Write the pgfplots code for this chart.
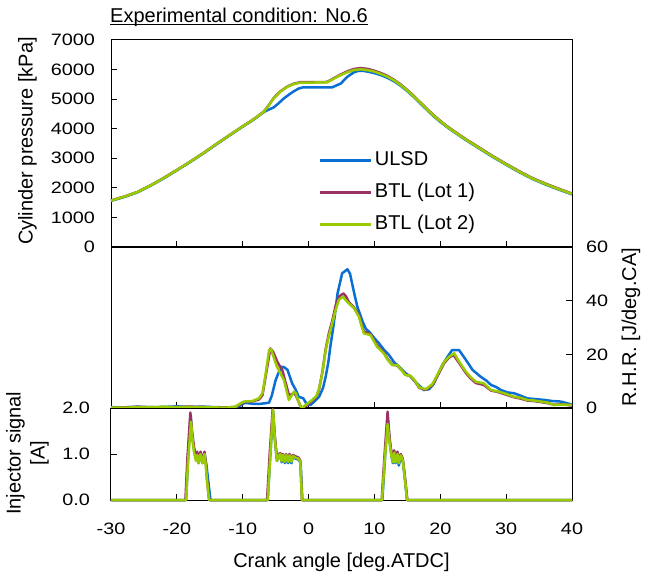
\documentclass[border=0pt]{standalone}
\usepackage{fontspec}
\setmainfont{Liberation Sans}
\newfontfamily\tickfont{Liberation Sans}[FakeStretch=1.2]
\usepackage{pgfplots}
\pgfplotsset{compat=1.18}
\definecolor{ulsd}{RGB}{10,110,210}
\definecolor{lotone}{RGB}{153,51,102}
\definecolor{lottwo}{RGB}{153,204,0}
\newcommand\ulx[1]{\setbox0\hbox{#1}\rlap{\rule[-2.6pt]{\wd0}{1.2pt}}\box0}
\newcommand\labfont{\fontsize{20}{24}\selectfont}
\pgfplotsset{
 panel/.style={
  scale only axis, width=461pt, xmin=-30, xmax=40,
  xtick={-30,-20,...,40}, tick align=inside,
  axis line style={line width=1pt},
  major tick length=6pt, every tick/.style={line width=1pt, black},
  every axis plot/.append style={line width=2.5pt, line join=round},
  tick label style={font=\tickfont\fontsize{16.5}{20}\selectfont},
  /pgf/number format/assume math mode=true,
  clip=false,
 }
}
\begin{document}
\begin{tikzpicture}
\useasboundingbox (0pt,0pt) rectangle (645pt,-575pt);
% ---------------- top: cylinder pressure
\begin{axis}[panel, at={(111pt,-40pt)}, anchor=north west, height=207pt,
  ymin=0, ymax=7000, ytick={0,1000,...,7000},
  yticklabels={0,1000,2000,3000,4000,5000,6000,7000},
  xticklabels={}, xtick pos=bottom, ytick pos=left,
  yticklabel shift=12.5pt,
  ylabel={Cylinder pressure [kPa]},
  every axis y label/.style={at={(axis description cs:-0.181,0.512)}, rotate=90, anchor=center, font=\labfont},
  title={\ulx{Experimental condition: No.6}},
  title style={at={(axis description cs:0,1.0565)}, anchor=base west, xshift=-1pt, inner sep=0pt, font=\labfont},
  legend style={at={(axis description cs:0.451,0.473)}, anchor=north west, draw=none, fill=none,
    inner sep=0pt, outer sep=0pt, row sep=10pt, font=\labfont,
    nodes={inner sep=2pt, text height=14pt, text depth=4pt},
    /tikz/every even column/.append style={column sep=8pt}},
  legend cell align=left,
  legend image code/.code={\draw[#1, line width=3pt] (0pt,0pt) -- (51pt,0pt);},
]
\addplot[ulsd] coordinates {
(-30,1560) (-28,1690) (-26,1845) (-24,2070) (-22,2320) (-20,2590) (-18,2870) (-16,3160)
(-14,3470) (-12,3770) (-10,4070) (-9,4210) (-8,4360) (-7,4530) (-6.5,4600) (-6,4650)
(-5.3,4720) (-4.5,4870) (-3.75,5025) (-3,5150) (-2.2,5270) (-1.5,5360) (-0.8,5400)
(3.6,5400) (4.3,5470) (4.9,5530) (5.9,5760) (6.9,5910) (7.5,5950) (8.2,5960) (9,5930)
(10,5880) (11,5810) (12,5720) (13,5600) (14,5450) (15,5270) (16,5070) (17,4850) (18,4630)
(19,4420) (20,4230) (21,4060) (22,3900) (24,3600) (26,3320) (28,3040) (30,2780) (32,2530)
(34,2300) (36,2110) (38,1940) (40,1780)};
\addlegendentry{ULSD}
\addplot[lotone] coordinates {
(-30,1575) (-28,1705) (-26,1860) (-24,2085) (-22,2335) (-20,2605) (-18,2885) (-16,3175)
(-14,3485) (-12,3785) (-10,4085) (-9,4225) (-8,4375) (-7,4545) (-6.8,4580) (-6,4810)
(-5.3,5035) (-4.3,5260) (-3.2,5430) (-2.2,5525) (-1.2,5575) (2.8,5580) (3.9,5715)
(4.9,5835) (5.9,5940) (6.9,6020) (7.9,6050) (9,6020) (10,5960) (11,5880) (12,5785)
(13,5650) (14,5495) (15,5305) (16,5105) (17,4885) (18,4665) (19,4455) (20,4265)
(21,4090) (22,3930) (24,3630) (26,3350) (28,3070) (30,2810) (32,2560) (34,2330)
(36,2140) (38,1970) (40,1805)};
\addlegendentry{BTL (Lot 1)}
\addplot[lottwo] coordinates {
(-30,1570) (-28,1700) (-26,1855) (-24,2080) (-22,2330) (-20,2600) (-18,2880) (-16,3170)
(-14,3480) (-12,3780) (-10,4080) (-9,4220) (-8,4370) (-7,4540) (-6.8,4575) (-6,4800)
(-5.3,5025) (-4.3,5250) (-3.2,5420) (-2.2,5510) (-1.2,5560) (2.8,5565) (3.9,5700)
(4.9,5815) (5.9,5910) (6.9,5985) (7.9,6010) (9,5980) (10,5930) (11,5850) (12,5760)
(13,5630) (14,5475) (15,5290) (16,5090) (17,4870) (18,4650) (19,4440) (20,4250)
(21,4075) (22,3915) (24,3615) (26,3335) (28,3055) (30,2795) (32,2545) (34,2315)
(36,2125) (38,1955) (40,1795)};
\addlegendentry{BTL (Lot 2)}
\end{axis}
% ---------------- middle: rate of heat release
\begin{axis}[panel, at={(111pt,-247pt)}, anchor=north west, height=161pt,
  ymin=0, ymax=60, ytick={0,20,40,60}, yticklabels={0,20,40,60},
  xticklabels={}, xtick pos=bottom, ytick pos=right, yticklabel pos=right,
  yticklabel shift=10.5pt,
  ylabel={R.H.R. [J/deg.CA]},
  every axis y label/.style={at={(axis description cs:1.128,0.5)}, rotate=90, anchor=center, font=\labfont},
]
\addplot[ulsd] coordinates {
(-30,0.3) (-28,0.2) (-26,0.5) (-24,0.3) (-22,0.4) (-20,0.6) (-18,0.4) (-16,0.5) (-14,0.3)
(-12,0.2) (-11,0.3) (-10.3,1.0) (-9.7,1.9) (-8.5,1.6) (-7.5,1.5) (-6.5,1.8) (-6,2.0)
(-5.6,4.5) (-5,10.4) (-4.5,13.5) (-4,15.4) (-3.6,15.0) (-3.2,14.2) (-2.5,9.2) (-2,7.0)
(-1.5,4.2) (-0.8,3.6) (-0.2,1.1) (0.3,1.2) (0.8,2.2) (1.6,4.2) (2.2,7.5) (2.6,11.7)
(3.0,17.0) (3.3,22.8) (3.8,31.0) (4.4,42.7) (5.1,50.2) (5.9,51.7) (6.3,50.0) (6.6,46.5)
(7.0,42.0) (7.4,37.8) (8.2,32.2) (8.7,29.5) (9.2,28.4) (10.0,26.0) (10.7,24.1) (11.5,21.5)
(12.2,19.8) (13.0,17.0) (14.0,14.8) (14.7,13.0) (15.5,11.7) (16.3,9.5) (17.0,7.9) (17.5,6.7)
(18.3,7.0) (19.0,9.0) (19.6,12.3) (20.3,16.0) (21.1,19.1) (21.8,21.6) (22.85,21.6) (23.3,20.0)
(23.9,17.9) (24.9,14.2) (26.1,11.7) (27.0,10.2) (27.7,8.6) (28.5,7.8) (29.2,6.7) (30.2,5.8)
(31.2,5.5) (32.2,4.6) (33.2,3.6) (34.5,3.3) (35.8,3.0) (37,2.6) (38.3,2.4) (39.2,1.8) (40,1.3)};
\addplot[lotone] coordinates {
(-30,0.1) (-26,0.4) (-22,0.2) (-18,0.5) (-14,0.2) (-12.5,0.2) (-11.1,0.4) (-10.5,1.2)
(-9.8,2.2) (-8.5,2.5) (-7.5,3.2) (-7.0,4.8) (-6.4,13.5) (-5.8,22.2) (-5.4,21.0) (-4.7,17.0)
(-4.0,14.2) (-3.5,9.5) (-3.0,5.0) (-2.6,5.0) (-2.2,5.8) (-1.8,4.0) (-1.3,1.0) (-0.9,0.0)
(-0.4,0.8) (0.5,2.6) (1.2,4.2) (1.6,7.0) (2.1,13.5) (2.6,22.0) (3.1,28.0) (3.6,32.5)
(4.1,38.0) (4.6,41.5) (5.3,42.7) (5.7,41.5) (6.1,39.5) (6.9,37.5) (7.65,34.5) (8.0,31.5)
(8.4,28.5) (9.4,27.5) (10.4,23.3) (10.9,22.0) (11.4,20.8) (12.0,18.3) (12.7,16.2) (13.5,15.8)
(14.7,12.5) (15.5,11.8) (16.2,9.8) (16.8,7.5) (17.8,6.8) (18.8,8.5) (19.8,13.0) (20.6,16.8)
(21.3,18.7) (22.0,19.8) (22.85,16.8) (23.9,13.0) (24.6,11.0) (25.4,9.3) (26.6,8.6) (27.7,6.5)
(28.7,6.0) (29.7,5.2) (31.2,4.0) (32.2,3.5) (33.2,2.8) (34.2,2.6) (35.3,2.2) (36.3,1.8)
(37.3,1.2) (38.5,1.4) (40,0.9)};
\addplot[lottwo] coordinates {
(-30,0.2) (-28,0.1) (-26,0.3) (-24,0.2) (-22,0.5) (-20,0.3) (-18,0.4) (-16,0.3) (-14,0.2)
(-12.5,0.1) (-11.1,0.5) (-10.5,1.5) (-9.8,2.4) (-8.5,2.6) (-7.55,3.6) (-7.0,5.5) (-6.5,13.0)
(-6.0,21.6) (-5.7,21.9) (-5.5,20.4) (-4.8,15.4) (-4.3,13.0) (-3.75,10.4) (-3.3,6.0) (-3.0,3.0)
(-2.6,4.5) (-2.2,6.1) (-1.95,5.5) (-1.6,3.0) (-1.2,0.5) (-1.0,0.0) (-0.45,1.1) (0.55,3.0)
(1.2,4.5) (1.6,7.3) (2.1,13.0) (2.6,21.6) (3.1,27.0) (3.6,31.6) (4.1,36.5) (4.6,40.3)
(5.2,41.5) (5.6,40.3) (6.1,39.0) (6.9,37.2) (7.65,34.0) (8.0,31.0) (8.4,27.8) (9.4,27.2)
(10.4,22.8) (10.9,21.6) (11.4,20.4) (12.0,18.0) (12.7,16.0) (13.5,16.0) (14.7,12.3) (15.5,12.0)
(16.2,10.0) (16.8,7.7) (17.8,7.0) (18.8,8.9) (19.8,13.5) (20.6,17.3) (21.3,19.0) (22.1,20.4)
(22.85,17.3) (23.9,13.5) (24.6,11.5) (25.4,9.8) (26.6,9.2) (27.7,6.7) (28.7,6.2) (29.7,5.5)
(31.2,4.2) (32.2,3.8) (33.2,3.0) (34.2,2.8) (35.3,2.4) (36.3,2.0) (37.3,1.1) (38.5,1.3) (40,1.1)};
\end{axis}
% ---------------- bottom: injector signal
\begin{axis}[panel, at={(111pt,-408pt)}, anchor=north west, height=92pt,
  ymin=0, ymax=2, ytick={0,1,2}, yticklabels={0.0,1.0,2.0},
  xticklabels={-30,-20,-10,0,10,20,30,40},
  xtick pos=bottom, ytick pos=left,
  yticklabel shift=17.5pt, xticklabel shift=19.5pt,
  ylabel={Injector signal\\{[A]}},
  every axis y label/.style={at={(axis description cs:-0.181,0.508)}, rotate=90, anchor=center, align=center, font=\labfont},
  xlabel={Crank angle [deg.ATDC]},
  every axis x label/.style={at={(axis description cs:0.5,-0.739)}, anchor=base, font=\labfont},
]
\addplot[ulsd] coordinates {
(-30,0) (-18.6,0) (-18.3,0.9) (-17.9,1.85) (-17.7,1.4) (-17.4,1.1) (-17.1,0.9) (-16.9,1.0)
(-16.7,0.8) (-16.4,1.0) (-16.1,0.8) (-15.8,1.0) (-15.5,0.75) (-15.3,0.5) (-14.9,0)
(-6.2,0) (-5.8,1.0) (-5.4,1.93) (-5.1,1.3) (-4.8,0.85) (-4.5,0.95) (-4.3,1.0) (-4.1,0.82)
(-3.9,0.98) (-3.6,0.8) (-3.4,0.97) (-3.1,0.8) (-2.9,0.95) (-2.6,0.8) (-2.4,0.95) (-2.0,0.9)
(-1.5,0.88) (-1.2,0.8) (-0.95,0) (11.2,0) (11.6,0.9) (12.0,1.75) (12.3,1.3) (12.6,0.95)
(12.8,0.8) (13.0,1.05) (13.2,0.8) (13.5,1.0) (13.7,0.75) (14.0,0.95) (14.3,0.85) (14.6,0.5)
(14.95,0) (40,0)};
\addplot[lotone] coordinates {
(-30,0) (-18.7,0) (-18.4,0.9) (-17.95,1.9) (-17.7,1.5) (-17.4,1.15) (-17.1,0.95) (-16.9,1.05)
(-16.7,0.85) (-16.4,1.05) (-16.1,0.85) (-15.8,1.05) (-15.6,0.8) (-15.4,0.4) (-15.1,0)
(-6.3,0) (-5.9,1.0) (-5.45,1.98) (-5.1,1.35) (-4.8,0.9) (-4.5,1.0) (-4.3,1.02) (-4.1,0.88)
(-3.9,1.0) (-3.6,0.86) (-3.4,1.0) (-3.1,0.86) (-2.9,1.0) (-2.6,0.86) (-2.4,0.98) (-2.0,0.95)
(-1.5,0.92) (-1.25,0.85) (-1.0,0) (11.1,0) (11.5,0.9) (12.0,1.92) (12.3,1.35) (12.6,1.0)
(12.8,0.85) (13.0,1.08) (13.2,0.85) (13.5,1.05) (13.7,0.82) (14.0,1.0) (14.3,0.9) (14.6,0.55)
(15.0,0) (40,0)};
\addplot[lottwo] coordinates {
(-30,0) (-18.6,0) (-18.3,0.85) (-17.85,1.7) (-17.65,1.35) (-17.4,1.05) (-17.1,0.85) (-16.9,0.98)
(-16.7,0.8) (-16.4,1.0) (-16.1,0.8) (-15.8,1.0) (-15.6,0.75) (-15.4,0.4) (-15.1,0)
(-6.2,0) (-5.8,1.0) (-5.4,1.96) (-5.1,1.3) (-4.8,0.85) (-4.5,0.97) (-4.3,1.0) (-4.1,0.84)
(-3.9,0.98) (-3.6,0.83) (-3.4,0.98) (-3.1,0.83) (-2.9,0.97) (-2.6,0.83) (-2.4,0.96) (-2.0,0.92)
(-1.5,0.9) (-1.25,0.82) (-1.0,0) (11.15,0) (11.55,0.85) (12.0,1.65) (12.3,1.25) (12.6,0.95)
(12.8,0.82) (13.0,1.03) (13.2,0.82) (13.5,1.0) (13.7,0.8) (14.0,0.97) (14.3,0.87) (14.6,0.5)
(14.95,0) (40,0)};
\end{axis}
\end{tikzpicture}
\end{document}
